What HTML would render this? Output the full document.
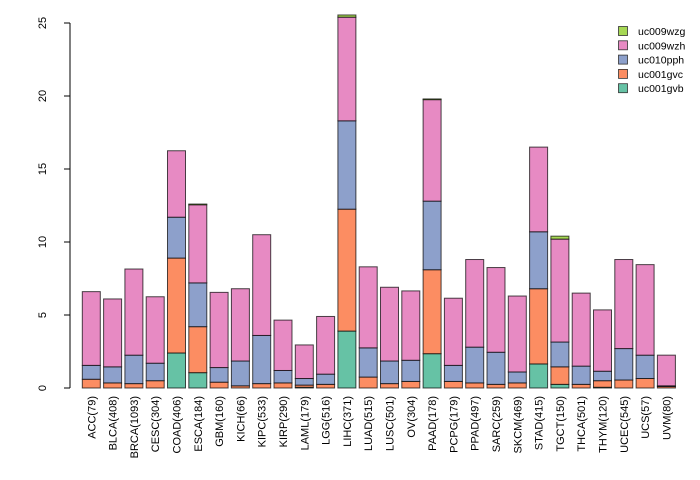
<!DOCTYPE html>
<html><head><meta charset="utf-8"><style>
html,body{margin:0;padding:0;background:#fff;}
svg{display:block;font-family:"Liberation Sans",sans-serif;}
</style></head><body>
<svg id="chart" width="700" height="480"></svg>
<script>
const categories=["ACC(79)","BLCA(408)","BRCA(1093)","CESC(304)","COAD(406)","ESCA(184)","GBM(160)","KICH(66)","KIPC(533)","KIRP(290)","LAML(179)","LGG(516)","LIHC(371)","LUAD(515)","LUSC(501)","OV(304)","PAAD(178)","PCPG(179)","PPAD(497)","SARC(259)","SKCM(469)","STAD(415)","TGCT(150)","THCA(501)","THYM(120)","UCEC(545)","UCS(57)","UVM(80)"];
const uc001gvb=[0,0,0,0,2.4,1.05,0,0,0,0,0.05,0,3.9,0,0,0,2.35,0,0,0,0,1.65,0.25,0,0.05,0,0,0];
const uc001gvc=[0.6,0.35,0.3,0.5,6.5,3.15,0.4,0.15,0.3,0.35,0.15,0.25,8.35,0.75,0.3,0.45,5.75,0.45,0.35,0.25,0.35,5.15,1.2,0.25,0.45,0.55,0.65,0.1];
const uc010pph=[0.95,1.1,1.95,1.2,2.8,3.0,1.0,1.7,3.3,0.85,0.45,0.7,6.05,2.0,1.55,1.45,4.7,1.1,2.45,2.2,0.75,3.9,1.7,1.25,0.65,2.15,1.6,0.05];
const uc009wzh=[5.05,4.65,5.9,4.55,4.55,5.35,5.15,4.95,6.9,3.45,2.3,3.95,7.1,5.55,5.05,4.75,6.95,4.6,6.0,5.8,5.2,5.8,7.05,5.0,4.2,6.1,6.2,2.1];
const uc009wzg=[0,0,0,0,0,0.05,0,0,0,0,0,0,0.15,0,0,0,0.05,0,0,0,0,0,0.2,0,0,0,0,0];
const yTicks=[0,5,10,15,20,25];
const seriesNames=["uc001gvb","uc001gvc","uc010pph","uc009wzh","uc009wzg"];
const seriesData=[uc001gvb,uc001gvc,uc010pph,uc009wzh,uc009wzg];
const colors=["#66c2a5","#fc8d62","#8da0cb","#e78ac3","#a6d854"];

const NS="http://www.w3.org/2000/svg";
const svg=document.getElementById("chart");
const y0=388, pxPerUnit=14.6;
function y(v){return y0-v*pxPerUnit;}
function x(i){return 82.3+i*21.3;}
const bw=18;
function mk(tag,attrs,parent){const e=document.createElementNS(NS,tag);for(const k in attrs)e.setAttribute(k,attrs[k]);(parent||svg).appendChild(e);return e;}

const yAxis=mk("g",{});


mk("line",{x1:70,x2:70,y1:y(0),y2:y(25),stroke:"#000","stroke-width":1},yAxis);
yTicks.forEach(t=>{
  mk("line",{x1:64,x2:70,y1:y(t),y2:y(t),stroke:"#000","stroke-width":1},yAxis);
  const tx=mk("text",{x:0,y:0,"font-size":11,"text-anchor":"middle",transform:`translate(46,${y(t)}) rotate(-90)`},yAxis);
  tx.textContent=t;
  
  
});

categories.forEach((c,i)=>{
  const g=mk("g",{});
  
  
  let cum=0;
  seriesData.forEach((s,k)=>{
    const v=s[i];
    if(v>0){
      const r=mk("rect",{x:x(i),y:y(cum+v),width:bw,height:v*pxPerUnit,fill:colors[k],stroke:"#000","stroke-opacity":0.7,"stroke-width":1},g);
      
      
    }
    cum+=v;
  });
  const lbl=mk("text",{x:0,y:0,"font-size":11,"text-anchor":"end",transform:`translate(${x(i)+bw/2+4},396) rotate(-90)`});
  lbl.textContent=c;
  
  
});

const leg=mk("g",{});


for(let k=4;k>=0;k--){
  const row=4-k;
  const ly=26.5+row*14.3;
  const e=mk("g",{},leg);
  
  
  mk("rect",{x:618.5,y:ly,width:9,height:9,fill:colors[k],stroke:"#333","stroke-width":0.8},e);
  const t=mk("text",{x:638,y:ly+8.5,"font-size":10.5},e);
  t.textContent=seriesNames[k];
}
</script>
</body></html>
